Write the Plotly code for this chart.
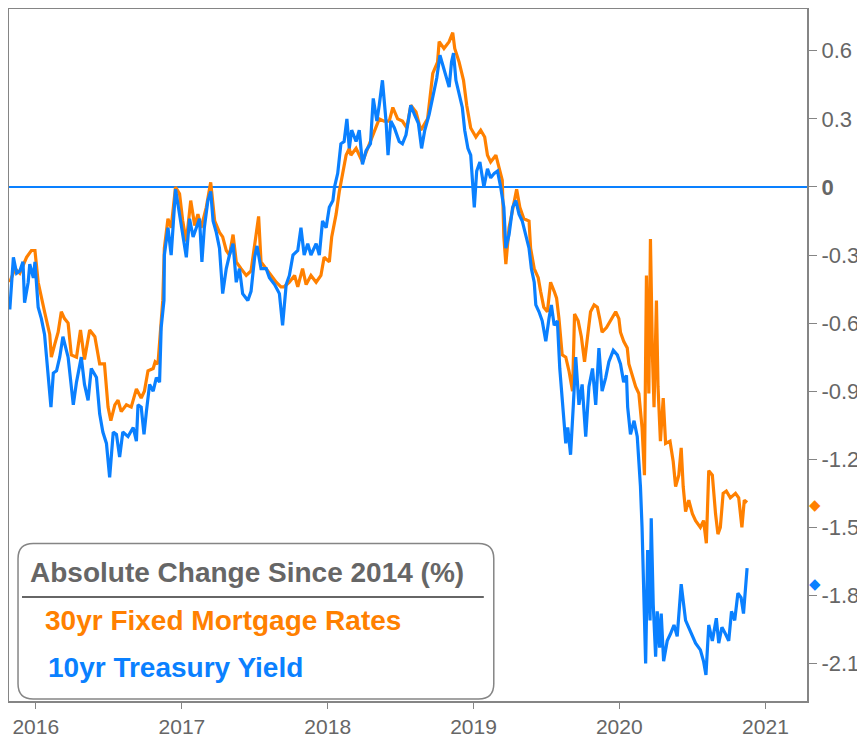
import pandas as pd
import plotly.graph_objects as go

# ---------------- data ----------------
base_date = "2016-01-01"  # day offsets below are counted from this date

mortgage_days = [
    -65, -52, -40, -23, -11, -2, 6, 14, 22, 35,
    39, 48, 56, 64, 72, 81, 89, 102, 112, 122,
    135, 148, 160, 172, 181, 188, 198, 206, 214, 227,
    239, 252, 264, 272, 281, 294, 299, 306, 314, 318,
    322, 331, 339, 350, 360, 368, 377, 388, 398, 406,
    414, 427, 438, 448, 460, 468, 477, 485, 494, 502,
    514, 527, 539, 548, 558, 564, 577, 589, 602, 614,
    622, 635, 648, 656, 668, 677, 689, 702, 714, 722,
    735, 741, 752, 760, 768, 777, 785, 789, 802, 818,
    831, 848, 860, 872, 885, 894, 906, 918, 929, 939,
    952, 964, 981, 994, 1006, 1010, 1022, 1035, 1044, 1049,
    1060, 1071, 1079, 1089, 1102, 1114, 1124, 1131, 1139, 1152,
    1160, 1168, 1172, 1177, 1185, 1194, 1204, 1212, 1222, 1235,
    1239, 1248, 1258, 1264, 1272, 1281, 1289, 1298, 1304, 1310,
    1318, 1327, 1335, 1344, 1349, 1358, 1366, 1374, 1381, 1389,
    1398, 1406, 1412, 1418, 1429, 1439, 1452, 1460, 1464, 1472,
    1481, 1485, 1494, 1502, 1510, 1518, 1524, 1529, 1535, 1539,
    1544, 1548, 1554, 1558, 1564, 1571, 1577, 1588, 1596, 1602,
    1610, 1616, 1621, 1627, 1635, 1644, 1652, 1664, 1672, 1679,
    1685, 1694, 1702, 1708, 1714, 1721, 1729, 1739, 1752, 1760,
    1768, 1774, 1781,
]
mortgage_change = [
    -0.42, -0.36, -0.38, -0.31, -0.28, -0.28, -0.42, -0.49, -0.55, -0.65,
    -0.75, -0.69, -0.64, -0.55, -0.58, -0.60, -0.74, -0.75, -0.63, -0.76,
    -0.63, -0.66, -0.78, -0.78, -0.97, -1.03, -0.96, -0.94, -0.99, -0.96,
    -0.97, -0.89, -0.93, -0.90, -0.81, -0.80, -0.77, -0.78, -0.62, -0.50,
    -0.27, -0.14, -0.18, -0.00, -0.03, -0.15, -0.24, -0.06, -0.17, -0.12,
    -0.18, -0.09, 0.02, -0.15, -0.20, -0.22, -0.28, -0.30, -0.21, -0.33,
    -0.36, -0.39, -0.37, -0.25, -0.13, -0.33, -0.36, -0.39, -0.42, -0.44,
    -0.44, -0.42, -0.39, -0.44, -0.36, -0.43, -0.39, -0.42, -0.39, -0.31,
    -0.33, -0.22, -0.12, -0.02, 0.06, 0.14, 0.17, 0.14, 0.17, 0.11,
    0.17, 0.25, 0.30, 0.29, 0.29, 0.35, 0.30, 0.29, 0.26, 0.36,
    0.33, 0.25, 0.30, 0.50, 0.55, 0.64, 0.61, 0.64, 0.68, 0.61,
    0.55, 0.47, 0.36, 0.26, 0.22, 0.25, 0.22, 0.14, 0.11, 0.14,
    0.08, 0.03, -0.22, -0.34, -0.18, -0.09, -0.01, -0.09, -0.14, -0.15,
    -0.27, -0.36, -0.40, -0.46, -0.53, -0.55, -0.42, -0.46, -0.49, -0.58,
    -0.74, -0.75, -0.81, -0.90, -0.56, -0.59, -0.66, -0.77, -0.66, -0.55,
    -0.52, -0.53, -0.58, -0.64, -0.62, -0.59, -0.55, -0.58, -0.64, -0.68,
    -0.71, -0.78, -0.84, -0.88, -0.91, -1.06, -1.27, -0.39, -0.91, -0.23,
    -0.74, -0.97, -0.50, -0.88, -1.12, -0.93, -1.13, -1.12, -1.21, -1.32,
    -1.27, -1.15, -1.32, -1.43, -1.38, -1.44, -1.47, -1.50, -1.47, -1.57,
    -1.25, -1.27, -1.44, -1.53, -1.50, -1.35, -1.34, -1.37, -1.35, -1.37,
    -1.50, -1.38, -1.39,
]

treasury_days = [
    -65, -56, -48, -40, -32, -28, -19, -15, -6, -2,
    6, 14, 22, 31, 38, 44, 52, 60, 68, 81,
    89, 94, 102, 114, 122, 131, 139, 152, 160, 168,
    177, 185, 194, 202, 210, 218, 231, 244, 252, 256,
    264, 271, 277, 285, 294, 302, 310, 314, 321, 322,
    331, 339, 344, 350, 360, 368, 377, 385, 394, 402,
    410, 416, 422, 431, 438, 444, 452, 460, 468, 477,
    485, 494, 502, 510, 518, 531, 539, 548, 554, 564,
    577, 585, 598, 610, 618, 627, 635, 644, 656, 664,
    672, 681, 689, 702, 710, 718, 727, 735, 744, 748,
    756, 764, 772, 779, 785, 791, 802, 810, 818, 827,
    838, 845, 854, 860, 868, 877, 882, 889, 898, 910,
    918, 927, 939, 948, 958, 966, 974, 985, 996, 1004,
    1012, 1021, 1029, 1035, 1041, 1046, 1052, 1060, 1068, 1074,
    1082, 1089, 1098, 1104, 1112, 1122, 1131, 1139, 1148, 1156,
    1164, 1172, 1177, 1185, 1194, 1202, 1210, 1218, 1227, 1235,
    1241, 1248, 1252, 1260, 1268, 1277, 1285, 1291, 1298, 1306,
    1312, 1318, 1327, 1332, 1339, 1346, 1352, 1360, 1368, 1377,
    1385, 1394, 1402, 1410, 1418, 1427, 1435, 1446, 1456, 1464,
    1472, 1479, 1482, 1489, 1498, 1506, 1514, 1518, 1522, 1527,
    1532, 1538, 1541, 1546, 1552, 1556, 1562, 1566, 1572, 1581,
    1589, 1598, 1606, 1616, 1627, 1635, 1644, 1652, 1664, 1672,
    1678, 1685, 1694, 1704, 1710, 1718, 1727, 1735, 1742, 1750,
    1758, 1766, 1772, 1777, 1781,
]
treasury_change = [
    -0.54, -0.31, -0.38, -0.37, -0.33, -0.51, -0.42, -0.34, -0.40, -0.33,
    -0.53, -0.58, -0.65, -0.81, -0.97, -0.82, -0.81, -0.75, -0.66, -0.75,
    -0.87, -0.96, -0.86, -0.75, -0.87, -0.94, -0.80, -0.84, -1.00, -1.08,
    -1.13, -1.28, -1.08, -1.09, -1.19, -1.08, -1.10, -1.06, -1.12, -0.96,
    -0.97, -1.09, -0.99, -0.87, -0.90, -0.84, -0.86, -0.62, -0.50, -0.30,
    -0.18, -0.30, -0.17, -0.01, -0.12, -0.21, -0.31, -0.14, -0.22, -0.18,
    -0.14, -0.33, -0.18, -0.06, -0.02, -0.15, -0.20, -0.27, -0.47, -0.36,
    -0.30, -0.25, -0.42, -0.36, -0.47, -0.50, -0.46, -0.31, -0.26, -0.36,
    -0.36, -0.40, -0.43, -0.47, -0.61, -0.43, -0.39, -0.30, -0.28, -0.18,
    -0.30, -0.25, -0.30, -0.25, -0.30, -0.15, -0.18, -0.09, -0.06, -0.00,
    0.06, 0.19, 0.20, 0.30, 0.17, 0.25, 0.20, 0.25, 0.10, 0.16,
    0.19, 0.39, 0.29, 0.36, 0.47, 0.29, 0.14, 0.29, 0.26, 0.20,
    0.19, 0.23, 0.36, 0.32, 0.28, 0.17, 0.25, 0.32, 0.41, 0.48,
    0.58, 0.52, 0.48, 0.44, 0.55, 0.59, 0.47, 0.41, 0.35, 0.25,
    0.17, 0.14, -0.09, 0.07, 0.11, -0.00, 0.08, 0.04, 0.06, 0.07,
    -0.00, -0.09, -0.27, -0.21, -0.09, -0.06, -0.12, -0.15, -0.22, -0.27,
    -0.36, -0.42, -0.52, -0.55, -0.59, -0.68, -0.58, -0.52, -0.61, -0.59,
    -0.80, -0.93, -1.13, -1.06, -1.18, -0.96, -0.75, -0.96, -0.87, -1.10,
    -0.88, -0.80, -0.96, -0.71, -0.90, -0.84, -0.77, -0.72, -0.74, -0.78,
    -0.86, -0.83, -0.97, -1.09, -1.03, -1.10, -1.32, -1.50, -1.74, -2.10,
    -1.60, -1.91, -1.46, -1.84, -2.07, -1.87, -2.03, -1.88, -2.09, -2.00,
    -1.97, -1.93, -1.98, -1.75, -1.91, -1.94, -1.98, -2.01, -2.04, -2.09,
    -2.15, -1.93, -2.00, -1.90, -2.01, -1.94, -1.97, -2.00, -1.87, -1.91,
    -1.79, -1.81, -1.88, -1.74, -1.68,
]

# right-edge marker levels (diamonds on the value axis)
marker_levels = {"30yr Fixed Mortgage Rates": -1.40, "10yr Treasury Yield": -1.75}

y_tick_values = [0.6, 0.3, 0, -0.3, -0.6, -0.9, -1.2, -1.5, -1.8, -2.1]
y_tick_labels = ["0.6", "0.3", "<b>0</b>", "-0.3", "-0.6", "-0.9", "-1.2", "-1.5", "-1.8", "-2.1"]
x_tick_years = ["2016", "2017", "2018", "2019", "2020", "2021"]

legend_title = "Absolute Change Since 2014 (%)"
series_names = ["30yr Fixed Mortgage Rates", "10yr Treasury Yield"]

# ---------------- styling ----------------
ORANGE = "#FF8000"
BLUE = "#0A80FF"
GREY = "#666666"
FRAME = "#858585"
FONT = "Liberation Sans, Arial, sans-serif"

start = pd.Timestamp(base_date)
mortgage_dates = start + pd.to_timedelta(mortgage_days, unit="D")
treasury_dates = start + pd.to_timedelta(treasury_days, unit="D")

fig = go.Figure()
fig.add_trace(go.Scatter(x=mortgage_dates, y=mortgage_change, mode="lines",
                         name=series_names[0], line=dict(color=ORANGE, width=3.2)))
fig.add_trace(go.Scatter(x=treasury_dates, y=treasury_change, mode="lines",
                         name=series_names[1], line=dict(color=BLUE, width=3.2)))

# the page body has an 8px margin, so the figure is sized to fit the window
fig.update_layout(
    width=857, height=732,
    margin=dict(l=1, r=58, t=1, b=39, autoexpand=False),
    paper_bgcolor="white", plot_bgcolor="white",
    showlegend=False,
    font=dict(family=FONT, color=GREY),
)
fig.update_xaxes(
    type="date",
    range=["2015-10-26", "2021-04-15"],
    tickvals=[f"{y}-01-01" for y in x_tick_years],
    ticktext=x_tick_years,
    ticks="outside", ticklen=6, tickwidth=1, tickcolor=FRAME,
    tickfont=dict(size=21, color=GREY, family=FONT),
    showgrid=False, zeroline=False,
    showline=True, mirror=True, linecolor=FRAME, linewidth=2,
)
fig.update_yaxes(
    side="right",
    range=[-2.265, 0.784],
    tickvals=y_tick_values, ticktext=y_tick_labels,
    ticks="outside", ticklen=8, tickwidth=1, tickcolor=FRAME,
    tickfont=dict(size=22, color=GREY, family=FONT),
    showgrid=False,
    zeroline=True, zerolinecolor=BLUE, zerolinewidth=1.5,
    showline=True, mirror=True, linecolor=FRAME, linewidth=2,
)

# legend box (rounded) drawn in paper coordinates
x0, x1, y0, y1 = 0.0113, 0.6075, 0.003, 0.2277
rx, ry = 0.019, 0.022
path = (f"M {x0+rx},{y1} L {x1-rx},{y1} Q {x1},{y1} {x1},{y1-ry} "
        f"L {x1},{y0+ry} Q {x1},{y0} {x1-rx},{y0} L {x0+rx},{y0} "
        f"Q {x0},{y0} {x0},{y0+ry} L {x0},{y1-ry} Q {x0},{y1} {x0+rx},{y1} Z")
fig.add_shape(type="path", path=path, xref="paper", yref="paper",
              line=dict(color=FRAME, width=1.5), fillcolor="rgba(255,255,255,0.9)")
fig.add_shape(type="line", xref="paper", yref="paper", x0=0.0163, x1=0.595,
              y0=0.1503, y1=0.1503, line=dict(color=GREY, width=2))

fig.add_annotation(text=f"<b>{legend_title}</b>", xref="paper", yref="paper",
                   x=0.024, y=0.186, xanchor="left", yanchor="middle", showarrow=False,
                   font=dict(size=28, color=GREY, family=FONT))
fig.add_annotation(text=f"<b>{series_names[0]}</b>", xref="paper", yref="paper",
                   x=0.043, y=0.117, xanchor="left", yanchor="middle", showarrow=False,
                   font=dict(size=28, color=ORANGE, family=FONT))
fig.add_annotation(text=f"<b>{series_names[1]}</b>", xref="paper", yref="paper",
                   x=0.046, y=0.048, xanchor="left", yanchor="middle", showarrow=False,
                   font=dict(size=28, color=BLUE, family=FONT))

# diamonds on the right axis
for (name, level), col in zip(marker_levels.items(), [ORANGE, BLUE]):
    fig.add_annotation(text="◆", xref="paper", yref="y", x=1.01, y=level,
                       xanchor="center", yanchor="middle", showarrow=False,
                       font=dict(size=15, color=col, family="DejaVu Sans"))

fig.write_html("out.html")
